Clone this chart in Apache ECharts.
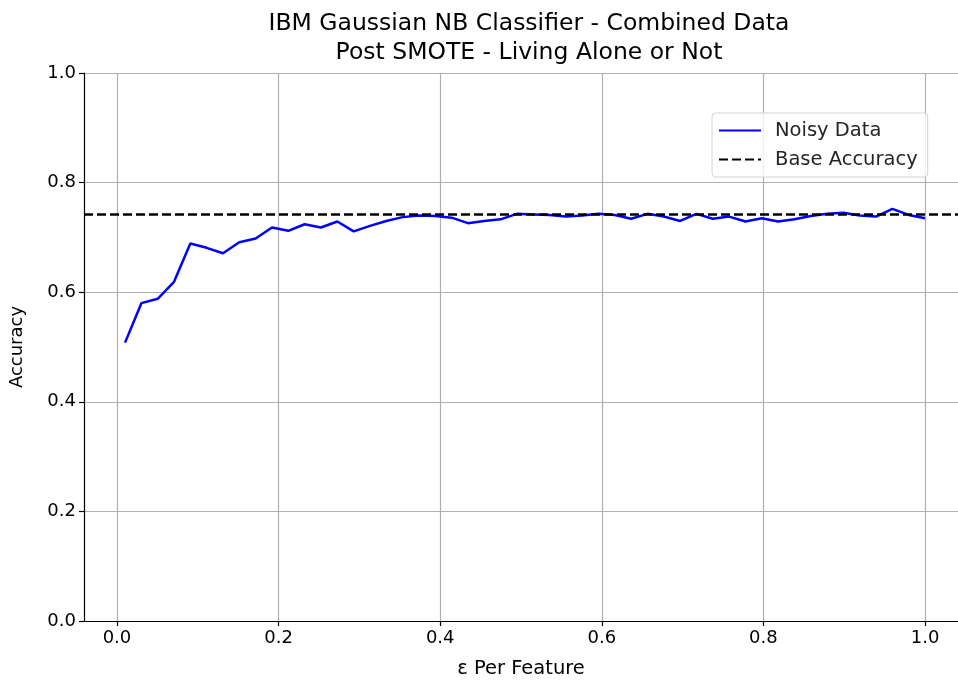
<!DOCTYPE html>
<html>
<head>
<meta charset="utf-8">
<script src="https://cdn.jsdelivr.net/npm/echarts@6/dist/echarts.min.js"></script>
<style>
  html, body { margin: 0; padding: 0; background: #fff; }
  #chart { width: 958px; height: 681px; }
</style>
</head>
<body>
<div id="chart"></div>
<script>
// Privacy budget per feature (x) and classifier accuracy on the noisy data (y)
const epsilon = [0.01, 0.0302, 0.0504, 0.0706, 0.0908, 0.1110, 0.1312, 0.1514, 0.1716, 0.1918,
  0.2120, 0.2322, 0.2524, 0.2727, 0.2929, 0.3131, 0.3333, 0.3535, 0.3737, 0.3939,
  0.4141, 0.4343, 0.4545, 0.4747, 0.4949, 0.5151, 0.5353, 0.5555, 0.5757, 0.5959,
  0.6161, 0.6363, 0.6565, 0.6767, 0.6969, 0.7171, 0.7373, 0.7576, 0.7778, 0.7980,
  0.8182, 0.8384, 0.8586, 0.8788, 0.8990, 0.9192, 0.9394, 0.9596, 0.9798, 1.0];
const noisyAccuracy = [0.508, 0.580, 0.588, 0.619, 0.689, 0.681, 0.671, 0.691, 0.698, 0.718,
  0.712, 0.724, 0.718, 0.729, 0.711, 0.721, 0.730, 0.737, 0.740, 0.739,
  0.736, 0.726, 0.730, 0.733, 0.743, 0.742, 0.741, 0.738, 0.740, 0.743,
  0.741, 0.734, 0.743, 0.738, 0.730, 0.743, 0.734, 0.738, 0.729, 0.735,
  0.729, 0.733, 0.739, 0.743, 0.745, 0.740, 0.738, 0.752, 0.741, 0.735];
const baseAccuracy = 0.742;

const xTicks = [0.0, 0.2, 0.4, 0.6, 0.8, 1.0];
const xMin = -0.0408, xMax = 1.0408;

const FONT = 'DejaVu Sans';
const chart = echarts.init(document.getElementById('chart'), null, { renderer: 'canvas' });

chart.setOption({
  animation: false,
  backgroundColor: '#ffffff',
  title: {
    text: 'IBM Gaussian NB Classifier - Combined Data\nPost SMOTE - Living Alone or Not',
    left: 524,
    top: 4,
    textAlign: 'center',
    textStyle: { fontFamily: FONT, fontSize: 23.5, fontWeight: 'normal', color: '#000', lineHeight: 29 }
  },
  legend: {
    left: 712,
    top: 113,
    orient: 'vertical',
    padding: [7, 10, 7, 6],
    itemGap: 8,
    itemWidth: 42,
    itemHeight: 14,
    backgroundColor: 'rgba(255,255,255,0.8)',
    borderColor: '#d4d4d4',
    borderWidth: 1,
    borderRadius: 4,
    itemStyle: { opacity: 0 },
    textStyle: { fontFamily: FONT, fontSize: 19.5, color: '#262626', lineHeight: 21, padding: [0, 0, 0, 9] },
    data: ['Noisy Data', 'Base Accuracy']
  },
  grid: { left: 84, right: 0, top: 73, bottom: 60, containLabel: false, outerBoundsMode: 'none' },
  xAxis: {
    type: 'value',
    min: xMin,
    max: xMax,
    name: 'ε Per Feature',
    nameLocation: 'middle',
    nameGap: 38,
    nameTextStyle: { fontFamily: FONT, fontSize: 19.5, color: '#000' },
    axisLine: { show: true, onZero: false, lineStyle: { color: '#000', width: 1.2 } },
    axisTick: { show: true, length: 5, customValues: xTicks, lineStyle: { color: '#000', width: 1.2 } },
    axisLabel: {
      customValues: xTicks, margin: 8,
      fontFamily: FONT, fontSize: 18, color: '#000',
      formatter: v => v.toFixed(1)
    },
    splitLine: { show: true, lineStyle: { color: '#b0b0b0', width: 1.2 } }
  },
  yAxis: {
    type: 'value',
    min: 0,
    max: 1,
    interval: 0.2,
    name: 'Accuracy',
    nameLocation: 'middle',
    nameGap: 58,
    nameTextStyle: { fontFamily: FONT, fontSize: 18, color: '#000' },
    axisLine: { show: true, onZero: false, lineStyle: { color: '#000', width: 1.2 } },
    axisTick: { show: true, length: 5, lineStyle: { color: '#000', width: 1.2 } },
    axisLabel: {
      margin: 8, fontFamily: FONT, fontSize: 18, color: '#000',
      formatter: v => v.toFixed(1)
    },
    splitLine: { show: true, lineStyle: { color: '#b0b0b0', width: 1.2 } }
  },
  series: [
    {
      name: 'Noisy Data',
      type: 'line',
      data: epsilon.map((e, i) => [e, noisyAccuracy[i]]),
      symbol: 'none',
      lineStyle: { color: '#0000ff', width: 2.5 },
      itemStyle: { color: '#0000ff' },
      z: 3
    },
    {
      name: 'Base Accuracy',
      type: 'line',
      data: [[xMin, baseAccuracy], [xMax, baseAccuracy]],
      symbol: 'none',
      lineStyle: { color: '#000', width: 2.5, type: [9, 4] },
      itemStyle: { color: '#000' },
      z: 4
    }
  ]
});
</script>
</body>
</html>
